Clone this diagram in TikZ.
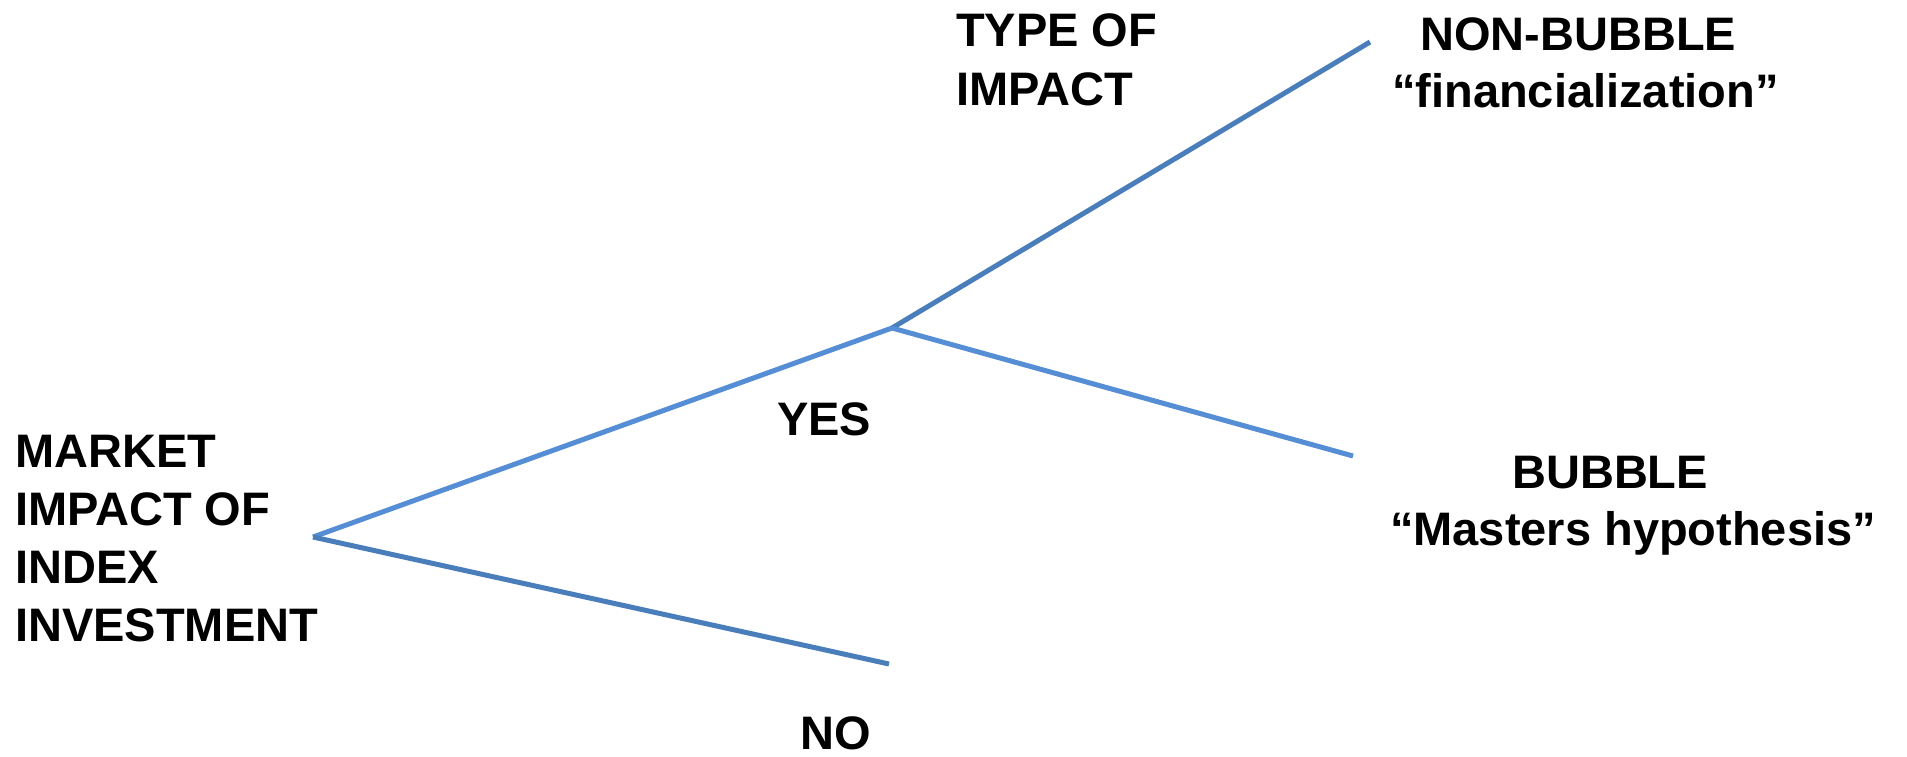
\documentclass[tikz,border=0pt]{standalone}
\usepackage{fontspec}
\setmainfont{Liberation Sans}
\begin{document}
\begin{tikzpicture}[x=1pt,y=-1pt,
  lbl/.style={anchor=base west,inner sep=0pt,font=\fontsize{47}{56}\selectfont\bfseries},
  branchlight/.style={draw=lightblue,line width=5pt},
  branchdark/.style={draw=darkblue,line width=5pt}]
\definecolor{lightblue}{HTML}{558ED5}
\definecolor{darkblue}{HTML}{4A7EBB}
\useasboundingbox (0,0) rectangle (1907,756);
% tree junctions and leaves
\coordinate (root) at (313,537);
\coordinate (fork) at (892,328);
\coordinate (noend) at (889,664);
\coordinate (upend) at (1370,42);
\coordinate (lowend) at (1353,456);
\draw[branchlight] (root) -- (fork);
\draw[branchdark] (root) -- (noend);
\draw[branchdark] (fork) -- (upend);
\draw[branchlight] (fork) -- (lowend);
% root label
\node[lbl] (m1) at (15,467) {MARKET};
\node[lbl] (m2) at (15,525) {IMPACT OF};
\node[lbl] (m3) at (15,583) {INDEX};
\node[lbl] (m4) at (15,641) {INVESTMENT};
% first split
\node[lbl] (yes) at (777,435) {YES};
\node[lbl] (no) at (800,749) {NO};
% second split
\node[lbl] (t1) at (956,46) {TYPE OF};
\node[lbl] (t2) at (956,105) {IMPACT};
\node[lbl] (nb1) at (1420,50) {NON-BUBBLE};
\node[lbl] (nb2) at (1392,107) {“financialization”};
\node[lbl] (b1) at (1512,488) {BUBBLE};
\node[lbl] (b2) at (1390,545) {“Masters hypothesis”};
\end{tikzpicture}
\end{document}
